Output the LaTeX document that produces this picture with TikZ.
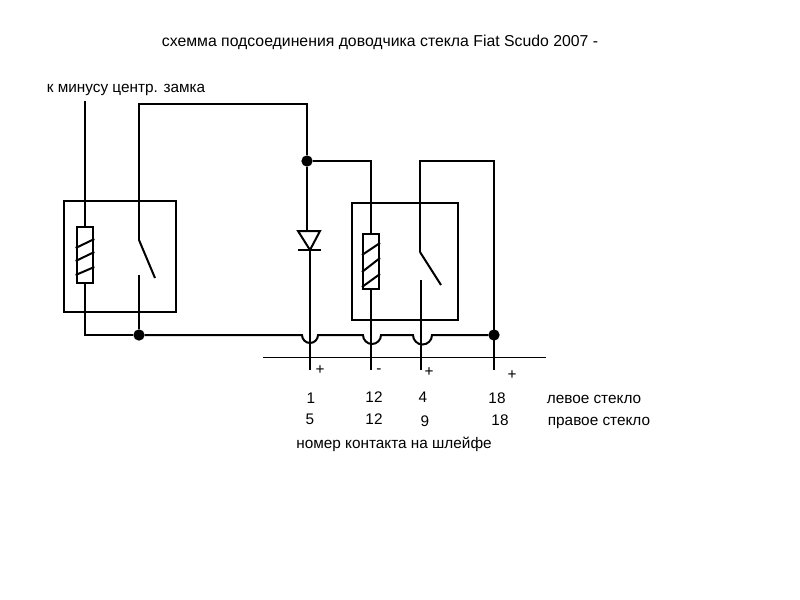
\documentclass[tikz,border=0pt]{standalone}
\usepackage{fontspec}
\setmainfont{Liberation Sans}
\tikzset{
    wire/.style={line width=1.5pt},
    thinwire/.style={line width=0.75pt},
    relay/.style={draw,line width=1.5pt,inner sep=0pt,anchor=north west},
    coil/.style={draw,line width=1.5pt,inner sep=0pt},
    dot/.style={circle,fill=black,inner sep=0pt,outer sep=0pt,minimum size=8.5pt},
    label/.style={inner sep=0pt,font=\fontsize{11.5}{13}\selectfont}
}
\begin{document}
\begin{tikzpicture}[
                    x=0.75pt,
                    y=-0.75pt,
                    wire
                ]
                \useasboundingbox (0,0) rectangle (800,600);

                \node (Title)  [label,font=\fontsize{11.85}{13}\selectfont] at (380,42)  {схемма подсоединения доводчика стекла Fiat Scudo 2007 -};
                \node (Minus)  [label] at (126,90)  {к минусу центр. замка};
                \node (PlusA)  [label] at (320,370) {+};
                \node (MinusB) [label] at (379,371) {-};
                \node (PlusC)  [label] at (429,372) {+};
                \node (PlusD)  [label] at (512,375) {+};
                \node (LeftA)  [label] at (311,398) {1};
                \node (LeftB)  [label] at (374,397) {12};
                \node (LeftC)  [label] at (423,397) {4};
                \node (LeftD)  [label] at (497,398) {18};
                \node (RightA) [label] at (310,419) {5};
                \node (RightB) [label] at (374,419) {12};
                \node (RightC) [label] at (425,421) {9};
                \node (RightD) [label] at (500,420) {18};
                \node (LeftG)  [label] at (594,399) {левое стекло};
                \node (RightG) [label] at (599,423) {правое стекло};
                \node (Number) [label] at (394,444) {номер контакта на шлейфе};

                % relays
                \node (RelayL) [relay,minimum width=84pt,minimum height=83pt]   at (63,200)  {};
                \node (RelayR) [relay,minimum width=79.5pt,minimum height=88pt] at (351,202) {};
                \node (CoilL)  [coil,minimum width=12.5pt,minimum height=42pt]  at (85,255) {};
                \node (CoilR)  [coil,minimum width=12pt,minimum height=41pt]    at (371,261.5) {};
                \foreach \ya/\yb in {275/267,261/252,248/239}
                    \draw (CoilL.west |- 0,\ya) -- (CoilL.east |- 0,\yb);
                \foreach \ya/\yb in {287/274,272/258,255/243}
                    \draw (CoilR.west |- 0,\ya) -- (CoilR.east |- 0,\yb);

                \node (DotL)  [dot] at (139,335) {};
                \node (DotT)  [dot] at (307,161) {};
                \node (DotR)  [dot] at (494,335) {};

                % wire ends
                \coordinate (InL)     at (85,101);
                \coordinate (CornerL) at (85,335);
                \coordinate (TopA)    at (139,104);
                \coordinate (TopB)    at (307,104);
                \coordinate (PoleL)   at (139,240);
                \coordinate (BladeL)  at (155,278);
                \coordinate (FixL)    at (139,275);
                \coordinate (DioL)    at (298,231);
                \coordinate (DioR)    at (320,231);
                \coordinate (DioT)    at (307,231);
                \coordinate (DioB)    at (310,250);
                \coordinate (BarL)    at (298,250);
                \coordinate (BarR)    at (321,250);
                \coordinate (TickA)   at (310,370);
                \coordinate (TickB)   at (371,370);
                \coordinate (TickC)   at (421,370);
                \coordinate (TickD)   at (494,370);
                \coordinate (CoilTop) at (371,161);
                \coordinate (SwTopA)  at (420,161);
                \coordinate (SwTopB)  at (494,161);
                \coordinate (PoleR)   at (420,252);
                \coordinate (BladeR)  at (441,285);
                \coordinate (FixR)    at (421,280);
                \coordinate (RailL)   at (263,357);
                \coordinate (RailR)   at (546,357);
                \coordinate (JumpA)   at (302,335);
                \coordinate (JumpB)   at (363,335);
                \coordinate (JumpC)   at (413,335);

                \draw (InL) -- (CoilL.north);
                \draw (CoilL.south) -- (CornerL) -- (DotL);
                \draw (DotL) -- (FixL);
                \draw (PoleL) -- (TopA) -- (TopB) -- (DotT) -- (DioT);
                \draw (DotT) -- (CoilTop) -- (CoilR.north);
                \draw (CoilR.south) -- (TickB);
                \draw (DioL) -- (DioR) -- (DioB) -- cycle;
                \draw (BarL) -- (BarR);
                \draw (DioB) -- (TickA);
                \draw (PoleL) -- (BladeL);
                \draw (PoleR) -- (SwTopA) -- (SwTopB) -- (TickD);
                \draw (PoleR) -- (BladeR);
                \draw (FixR) -- (TickC);
                \draw (DotL) -- (JumpA) arc[start angle=180,end angle=0,radius=8]
                    -- (JumpB) arc[start angle=180,end angle=0,radius=9]
                    -- (JumpC) arc[start angle=180,end angle=0,radius=9.5]
                    -- (DotR);
                \draw[thinwire] (RailL) -- (RailR);
\end{tikzpicture}
\end{document}
